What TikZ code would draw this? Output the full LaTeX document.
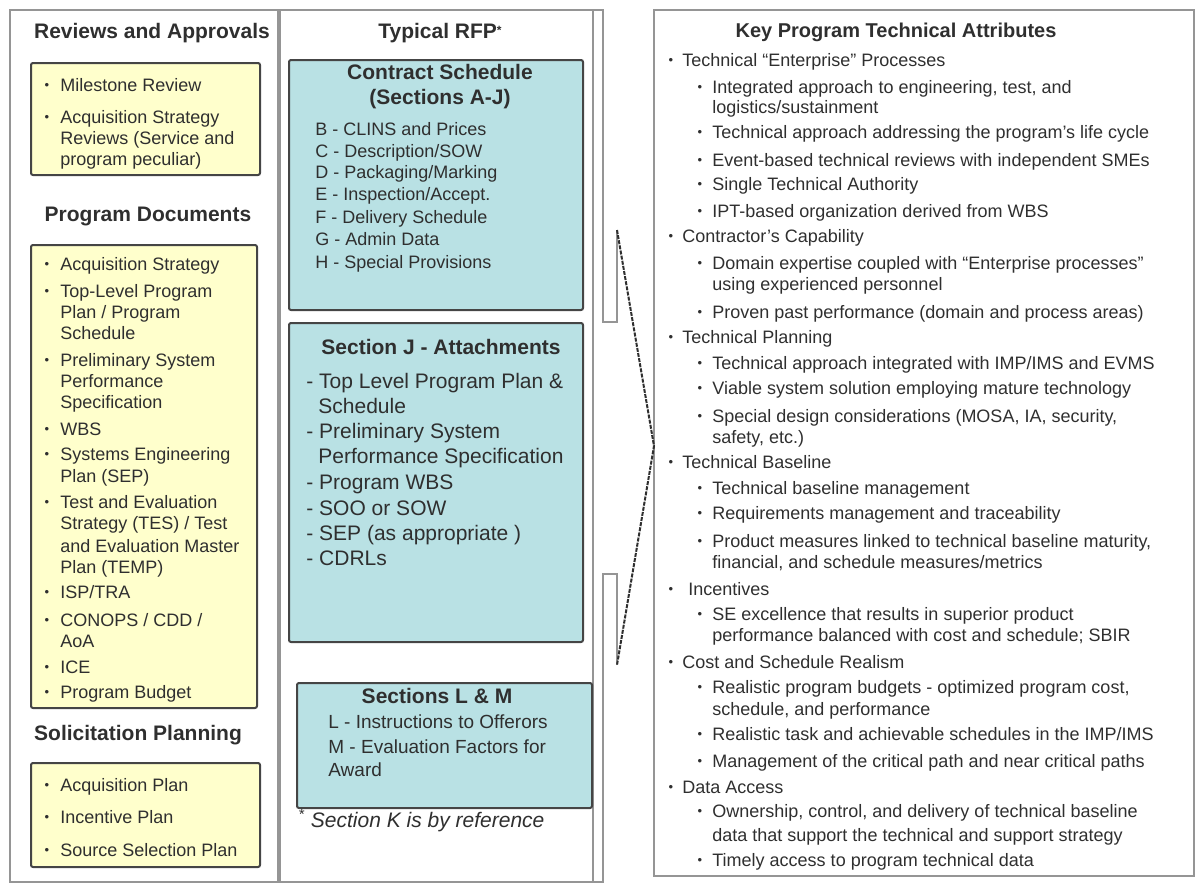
\documentclass[tikz,border=0pt]{standalone}
\usepackage{fontspec}
\setmainfont{Liberation Sans}
\usepackage{xcolor}
\usepackage{tikz}
\usetikzlibrary{positioning, calc}
\definecolor{panelgray}{HTML}{959595}
\definecolor{boxline}{HTML}{454545}
\definecolor{noteyellow}{HTML}{FFFFCC}
\definecolor{rfpcyan}{HTML}{B9E1E4}
\definecolor{inkgray}{HTML}{2F2F2F}
\tikzstyle{panel} = [draw=panelgray, line width=1.2pt]
\tikzstyle{pointer} = [draw=inkgray, line width=1pt, dash pattern=on 2pt off 0.6pt]

\begin{document}
\begin{tikzpicture}[x=0.5pt, y=-0.5pt, text=inkgray, font=\fontsize{9}{11}\selectfont,
    head/.style={font=\fontsize{10.5}{12}\selectfont\bfseries, inner sep=0pt, text height=8pt, text depth=2pt},
    item/.style={anchor=west, inner sep=0pt, text height=7pt, text depth=1.6pt},
    dot/.style={inner sep=0pt, font=\fontsize{6.5}{7}\selectfont},
    yellowbox/.style={draw=boxline, fill=noteyellow, line width=1pt, rounded corners=1pt},
    cyanbox/.style={draw=boxline, fill=rfpcyan, line width=1pt, rounded corners=1pt}]

    \useasboundingbox (0,0) rectangle (1197,884);

    % Panels
    \draw[panel] (10,10) rectangle (278,882);
    \draw[panel] (280,10) rectangle (593,882);
    \draw[panel] (654,10) rectangle (1194,876);

    % Left column
    \node[head] (reviews) at (152,32) {Reviews and Approvals};
    \draw[yellowbox] (31,63) rectangle (260,175);
    \node[head] (progdocs) at (148,215) {Program Documents};
    \draw[yellowbox] (31,245) rectangle (257,708);
    \node[head] (solplan) at (138,734) {Solicitation Planning};
    \draw[yellowbox] (31,763) rectangle (260,867);

    \foreach \b/\y/\t [count=\i] in {1/86/{Milestone Review}, 1/118/{Acquisition Strategy},
        0/139/{Reviews (Service and}, 0/160/{program peculiar)},
        1/265/{Acquisition Strategy}, 1/292/{Top-Level Program}, 0/313/{Plan / Program}, 0/334/{Schedule},
        1/361/{Preliminary System}, 0/382/{Performance}, 0/403/{Specification}, 1/430/{WBS},
        1/455/{Systems Engineering}, 0/477/{Plan (SEP)}, 1/503/{Test and Evaluation},
        0/524/{Strategy (TES) / Test}, 0/547/{and Evaluation Master}, 0/568/{Plan (TEMP)},
        1/593/{ISP/TRA}, 1/621/{CONOPS / CDD /}, 0/642/{AoA}, 1/668/{ICE}, 1/693/{Program Budget},
        1/786/{Acquisition Plan}, 1/818/{Incentive Plan}, 1/851/{Source Selection Plan}}{
      \node[item] (doc\i) at (60,\y) {\t};
      \ifnum\b=1 \node[dot] (docdot\i) at (47,\y) {\textbullet}; \fi
    }

    % Middle column: typical RFP
    \node[head] (rfp) at (440,32) {Typical RFP{\fontsize{6}{6}\selectfont\raisebox{0.6ex}{*}}};
    \draw[cyanbox] (289,60) rectangle (583,310);
    \node[head] (sched) at (440,73) {Contract Schedule};
    \node[head, below=2.5pt of sched] (schedsub) {(Sections A-J)};
    \foreach \y/\t [count=\i] in {130/{B - CLINS and Prices}, 152/{C - Description/SOW},
        173/{D - Packaging/Marking}, 195/{E - Inspection/Accept.}, 218/{F - Delivery Schedule},
        240/{G - Admin Data}, 263/{H - Special Provisions}}
      \node[item] (sec\i) at (315,\y) {\t};

    \draw[cyanbox] (289,323) rectangle (583,642);
    \node[head] (attach) at (441,348) {Section J - Attachments};
    \foreach \x/\y/\t [count=\i] in {306/383/{- Top Level Program Plan \&}, 318/408/{Schedule},
        306/433/{- Preliminary System}, 318/458/{Performance Specification}, 306/484/{- Program WBS},
        306/510/{- SOO or SOW}, 306/535/{- SEP (as appropriate )}, 306/560/{- CDRLs}}
      \node[item, font=\fontsize{10.5}{12}\selectfont] (att\i) at (\x,\y) {\t};

    \draw[cyanbox] (297,683) rectangle (592,808);
    \node[head] (lm) at (437,697) {Sections L \& M};
    \foreach \y/\t [count=\i] in {723/{L - Instructions to Offerors}, 748/{M - Evaluation Factors for}, 771/{Award}}
      \node[item, font=\fontsize{9.5}{11}\selectfont] (lm\i) at (328,\y) {\t};
    \node[item, font=\fontsize{10.5}{12}\selectfont\itshape] (note) at (298,822) {\textsuperscript{*} Section K is by reference};

    % Pointer into attributes
    \coordinate (tipU) at (617,230);
    \coordinate (apex) at (654,446);
    \coordinate (tipL) at (617,665);
    \draw[panelgray, line width=0.9pt] (593,10) -- (603,10) -- (603,322) -- (617,322) -- (tipU);
    \draw[panelgray, line width=0.9pt] (tipL) -- (617,574) -- (603,574) -- (603,882) -- (593,882);
    \draw[pointer] (tipU) -- (apex) -- (tipL);

    % Right column: key attributes
    \node[head, font=\fontsize{10}{12}\selectfont\bfseries] (keyattr) at (896,31) {Key Program Technical Attributes};
    \foreach \bx/\tx/\y/\t [count=\i] in {
        671/682/61/{Technical “Enterprise” Processes},
        700/712/88/{Integrated approach to engineering, test, and},
        0/712/108/{logistics/sustainment},
        700/712/133/{Technical approach addressing the program’s life cycle},
        700/712/161/{Event-based technical reviews with independent SMEs},
        700/712/185/{Single Technical Authority},
        700/712/212/{IPT-based organization derived from WBS},
        671/682/237/{Contractor’s Capability},
        700/712/264/{Domain expertise coupled with “Enterprise processes”},
        0/712/285/{using experienced personnel},
        700/712/313/{Proven past performance (domain and process areas)},
        671/682/338/{Technical Planning},
        700/712/364/{Technical approach integrated with IMP/IMS and EVMS},
        700/712/389/{Viable system solution employing mature technology},
        700/712/417/{Special design considerations (MOSA, IA, security,},
        0/712/438/{safety, etc.)},
        671/682/463/{Technical Baseline},
        700/712/489/{Technical baseline management},
        700/712/514/{Requirements management and traceability},
        700/712/542/{Product measures linked to technical baseline maturity,},
        0/712/563/{financial, and schedule measures/metrics},
        671/688/590/{Incentives},
        700/712/615/{SE excellence that results in superior product},
        0/712/636/{performance balanced with cost and schedule; SBIR},
        671/682/663/{Cost and Schedule Realism},
        700/712/688/{Realistic program budgets - optimized program cost,},
        0/712/710/{schedule, and performance},
        700/712/735/{Realistic task and achievable schedules in the IMP/IMS},
        700/712/762/{Management of the critical path and near critical paths},
        671/682/788/{Data Access},
        700/712/812/{Ownership, control, and delivery of technical baseline},
        0/712/836/{data that support the technical and support strategy},
        700/712/861/{Timely access to program technical data}}{
      \node[item] (attr\i) at (\tx,\y) {\t};
      \ifnum\bx>0 \node[dot] (attrdot\i) at (\bx,\y) {\textbullet}; \fi
    }
\end{tikzpicture}
\end{document}
